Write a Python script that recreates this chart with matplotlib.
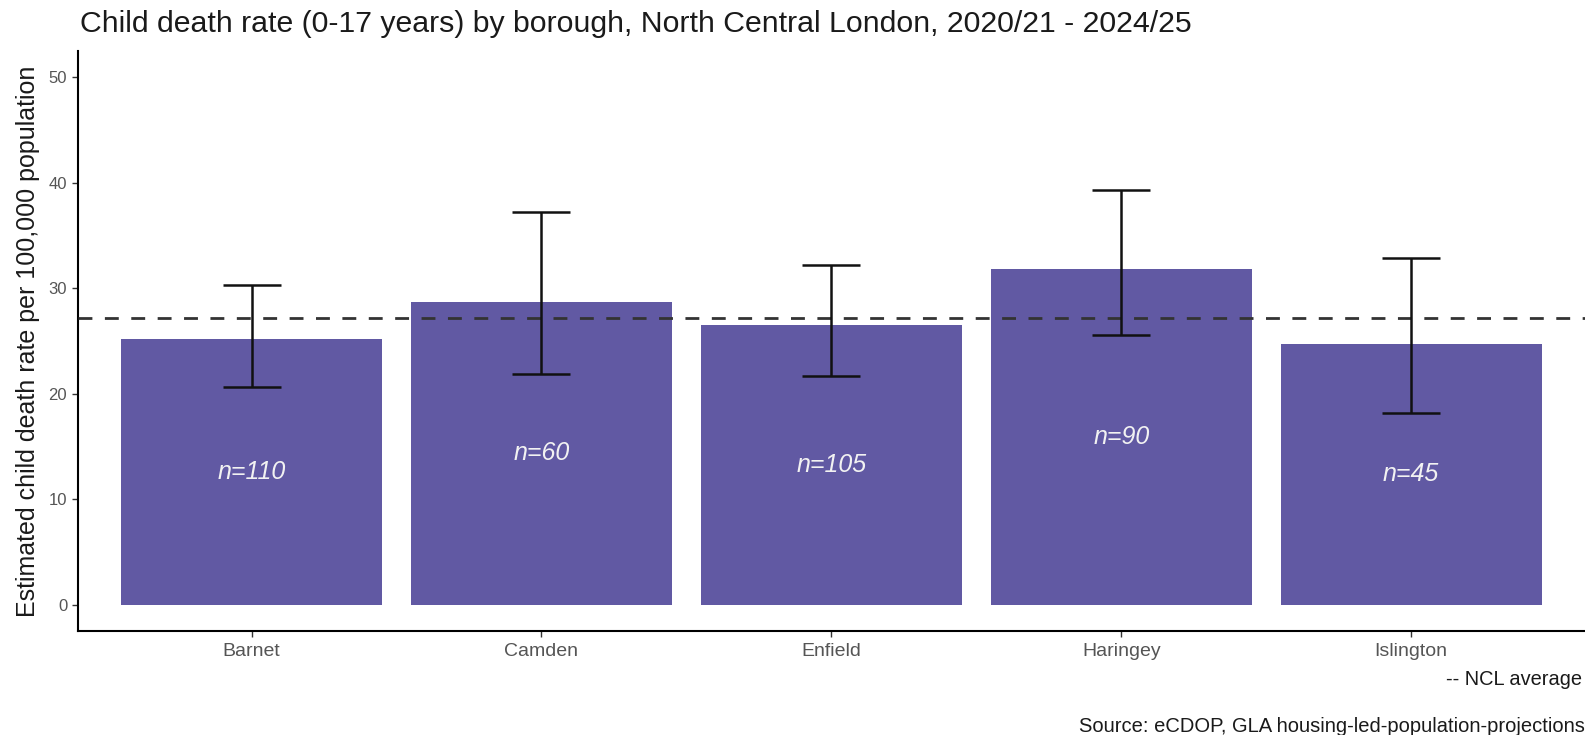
import numpy as np
import matplotlib
matplotlib.use('Agg')
import matplotlib.pyplot as plt

# Child death rates per 100,000 (0-17 years), NCL boroughs
boroughs = ['Barnet', 'Camden', 'Enfield', 'Haringey', 'Islington']
rates = [25.2, 28.7, 26.5, 31.85, 24.7]
ci_lower = [20.65, 21.85, 21.7, 25.55, 18.15]
ci_upper = [30.3, 37.2, 32.2, 39.3, 32.9]
deaths = [110, 60, 105, 90, 45]
ncl_average = 27.2
y_ticks = [0, 10, 20, 30, 40, 50]

plt.rcParams['font.family'] = ['Liberation Sans', 'DejaVu Sans']

fig = plt.figure(figsize=(15.85, 7.35), dpi=100)
ax = fig.add_axes([0.049, 0.1415, 0.951, 0.7895])

x = np.arange(1, len(boroughs) + 1)
rates = np.array(rates)
err = np.vstack([rates - np.array(ci_lower), np.array(ci_upper) - rates])

ax.bar(x, rates, width=0.9, color='#6159a3', zorder=2)
ax.axhline(ncl_average, color='#333333', lw=2.0, dashes=(5, 4.5), zorder=3)
ax.errorbar(x, rates, yerr=err, fmt='none', ecolor='#111111', elinewidth=1.8,
            capsize=21, capthick=1.8, zorder=4)

for xi, r, n in zip(x, rates, deaths):
    ax.text(xi, r / 2, f'n={n}', ha='center', va='center', color='#f2f2f2',
            style='italic', fontsize=18, zorder=5)

ax.set_xlim(0.4, 5.6)
ax.set_ylim(-2.5, 52.5)
ax.set_xticks(x)
ax.set_xticklabels(boroughs, fontsize=14)
ax.set_yticks(y_ticks)
ax.tick_params(axis='both', colors='#333333', labelcolor='#555555',
               labelsize=12, length=4, width=1)
ax.tick_params(axis='x', labelsize=14, pad=5)

for side in ['top', 'right']:
    ax.spines[side].set_visible(False)
for side in ['left', 'bottom']:
    ax.spines[side].set_linewidth(1.5)
    ax.spines[side].set_color('black')

ax.set_ylabel('Estimated child death rate per 100,000 population', fontsize=18,
              color='#1a1a1a', labelpad=6)

fig.text(0.0505, 0.968, 'Child death rate (0-17 years) by borough, North Central London, 2020/21 - 2024/25',
         fontsize=21.8, color='#1a1a1a', ha='left', va='center')
fig.text(0.998, 0.076, '-- NCL average', fontsize=14.4, color='#1a1a1a', ha='right', va='center')
fig.text(1.0, 0.012, 'Source: eCDOP, GLA housing-led-population-projections', fontsize=14.5,
         color='#1a1a1a', ha='right', va='center')

fig.savefig('out.png', dpi=100)
